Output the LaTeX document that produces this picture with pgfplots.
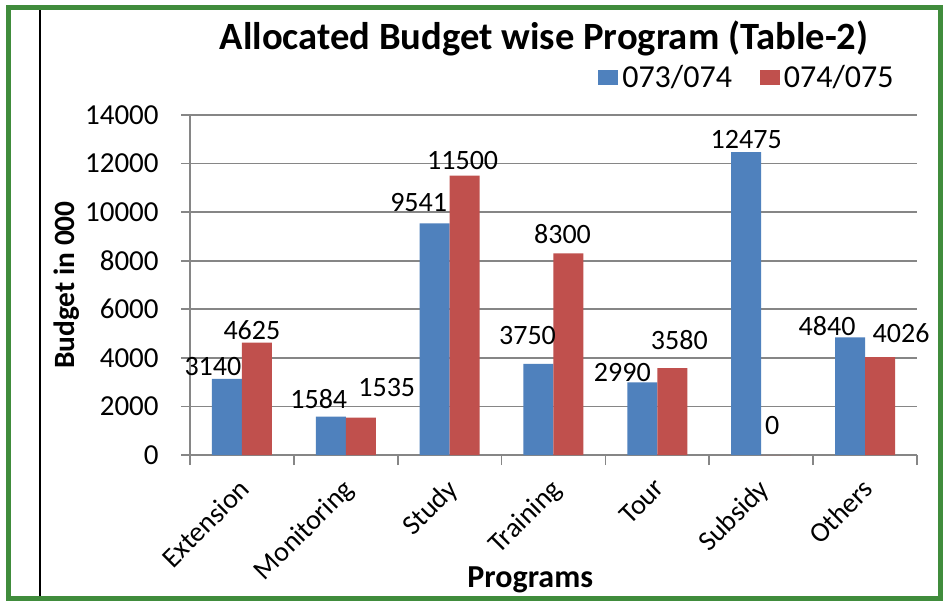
\documentclass[border=0pt]{standalone}
\usepackage{pgfplots}
\usepackage{pgfplotstable}
\pgfplotsset{compat=1.18}
\usepackage{fontspec}
\setmainfont{Carlito}
\definecolor{xblue}{HTML}{4F81BD}
\definecolor{xred}{HTML}{C0504D}
\definecolor{xgreen}{RGB}{64,140,60}
\definecolor{xgrid}{RGB}{134,134,134}

\pgfplotstableread{
x y xs ys
0 3140 -7 6
1 1584 -6 9
2 9541 -8 10.5
3 3750 -5.5 14
4 2990 -10 5
5 12475 0 6.5
6 4840 -11.5 5.5
}\blueT
\pgfplotstableread{
x y xs ys
0 4625 -2.5 6.5
1 1535 13 15
2 11500 -1 7.5
3 8300 -3 9.5
4 3580 3.5 14
5 0 -2 15
6 4026 10.5 12
}\redT

\begin{document}
\begin{tikzpicture}
\fill[white] (0,0) rectangle (473.5pt,301pt);
\draw[xgreen, line width=2.5pt] (4pt,2pt) rectangle (470pt,297.5pt);
\draw[black, line width=0.9pt] (20pt,3.25pt) -- (20pt,296.25pt);
\node[font=\fontsize{19.3}{23}\selectfont\bfseries] at (272pt,282pt) {Allocated Budget wise Program (Table-2)};
\begin{axis}[
  at={(95pt,73.5pt)}, anchor=south west,
  scale only axis, width=363.5pt, height=170pt,
  ybar=0pt, bar width=15pt,
  xmin=-0.5, xmax=6.5, ymin=0, ymax=14000,
  xtick={0,...,6},
  xticklabels={Extension,Monitoring,Study,Training,Tour,Subsidy,Others},
  minor xtick={-0.5,0.5,...,6.5},
  major x tick style={draw=none},
  minor x tick style={draw=xgrid, line width=0.8pt},
  minor tick length=5pt,
  ytick={0,2000,...,14000},
  scaled y ticks=false,
  y tick style={draw=xgrid, line width=0.8pt},
  major tick length=4.5pt,
  tick align=outside,
  ymajorgrids, grid style={draw=xgrid, line width=0.8pt},
  axis x line*=bottom, axis y line*=left,
  axis line style={draw=xgrid, line width=0.8pt, -},
  /pgf/number format/assume math mode=true,
  /pgf/number format/1000 sep={},
  tick label style={font=\fontsize{14.5}{17}\selectfont},
  yticklabel style={anchor=east, inner sep=0pt, xshift=-11pt},
  xticklabel style={font=\fontsize{14}{17}\selectfont, rotate=45, anchor=north east, inner sep=1pt, xshift=-5pt, yshift=-2pt},
  ylabel={Budget in 000},
  ylabel style={font=\fontsize{14.7}{17}\selectfont\bfseries, at={(axis description cs:-0.1695,0.5)}, anchor=center},
  xlabel={Programs},
  xlabel style={font=\fontsize{16}{19}\selectfont\bfseries, at={(axis description cs:0.468,-0.368)}, anchor=center},
  legend style={at={(0.7675,1.109)}, anchor=center, legend columns=2, draw=none, fill=none,
    font=\fontsize{16}{19}\selectfont,
    /tikz/every even column/.append style={column sep=12pt}},
  legend image code/.code={\fill[#1] (0pt,-3.5pt) rectangle (10pt,4pt);},
  nodes near coords,
  visualization depends on={\thisrow{xs} \as \myxs},
  visualization depends on={\thisrow{ys} \as \myys},
  every node near coord/.append style={font=\fontsize{14}{17}\selectfont, anchor=center, xshift=\myxs pt, yshift=\myys pt, text=black},
]
\addplot[fill=xblue, draw=none] table[x=x, y=y] {\blueT};
\addplot[fill=xred, draw=none] table[x=x, y=y] {\redT};
\legend{073/074, 074/075}
\end{axis}
\end{tikzpicture}
\end{document}
